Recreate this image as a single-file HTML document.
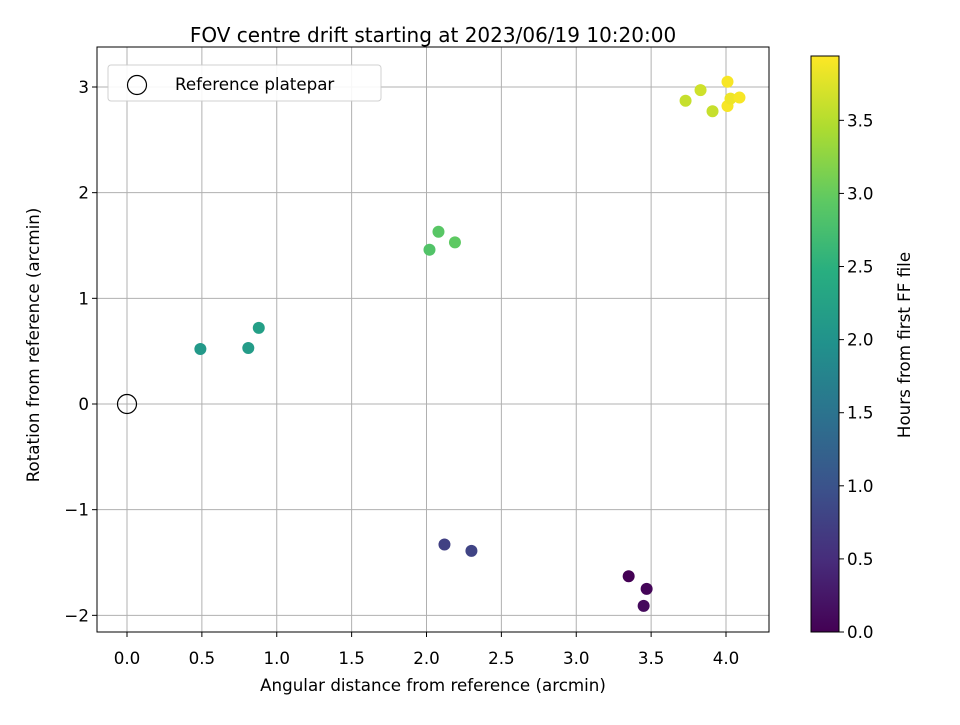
<!DOCTYPE html>
<html><head><meta charset="utf-8"><style>
body{margin:0;background:#fff}
svg text{font-family:"DejaVu Sans","Liberation Sans",sans-serif;fill:#000}
</style></head><body>
<svg id="chart" width="960" height="720" xmlns="http://www.w3.org/2000/svg">
<defs>
<linearGradient id="vir" x1="0" y1="1" x2="0" y2="0">
<stop offset="0" stop-color="#440154"/><stop offset="0.125" stop-color="#472d7b"/><stop offset="0.25" stop-color="#3b528b"/><stop offset="0.375" stop-color="#2c728e"/><stop offset="0.5" stop-color="#21918c"/><stop offset="0.625" stop-color="#28ae80"/><stop offset="0.75" stop-color="#5ec962"/><stop offset="0.875" stop-color="#addc30"/><stop offset="1" stop-color="#fde725"/>
</linearGradient>
</defs>
<g id="grid"></g>
<g id="points"></g>
<rect x="97" y="47" width="672" height="585" fill="none" stroke="#000" stroke-width="1"/>
<g id="xticks"></g>
<g id="yticks"></g>
<text x="433" y="42" font-size="20" text-anchor="middle">FOV centre drift starting at 2023/06/19 10:20:00</text>
<text x="433" y="691" font-size="16.7" text-anchor="middle">Angular distance from reference (arcmin)</text>
<text transform="translate(39,345) rotate(-90)" font-size="16.7" text-anchor="middle">Rotation from reference (arcmin)</text>
<g>
<rect x="108" y="65" width="273" height="36" rx="3" fill="#fff" stroke="#ccc" opacity="0.9"/>
<circle cx="137" cy="85" r="9.5" fill="none" stroke="#000" stroke-width="1.2"/>
<text x="175" y="90" font-size="16.7">Reference platepar</text>
</g>
<g>
<rect x="811" y="56" width="28" height="576" fill="url(#vir)" stroke="#000" stroke-width="1"/>
<g id="cticks"></g>
<text transform="translate(910,345) rotate(-90)" font-size="16.7" text-anchor="middle">Hours from first FF file</text>
</g>
</svg>
<script>
const distance=[3.35,3.47,3.45,2.12,2.30,0.49,0.81,0.88,2.02,2.08,2.19,3.73,3.83,3.91,4.01,4.01,4.03,4.09];
const rotation=[-1.63,-1.75,-1.91,-1.33,-1.39,0.52,0.53,0.72,1.46,1.63,1.53,2.87,2.97,2.77,3.05,2.82,2.89,2.90];
const hours=[0.0,0.05,0.1,0.75,0.8,2.1,2.15,2.2,2.85,2.9,2.95,3.6,3.65,3.6,3.9,3.9,3.85,3.9];
const xTicks=[0,0.5,1,1.5,2,2.5,3,3.5,4];
const yTicks=[-2,-1,0,1,2,3];
const cTicks=[0,0.5,1,1.5,2,2.5,3,3.5];
const hMax=3.94;
const NS="http://www.w3.org/2000/svg";
const X=v=>127+v*149.75, Y=v=>404-v*105.67, C=v=>632-v*(576/hMax);
const vir=["#440154","#472d7b","#3b528b","#2c728e","#21918c","#28ae80","#5ec962","#addc30","#fde725"];
function hex(h){return [1,3,5].map(i=>parseInt(h.substr(i,2),16));}
function cmap(t){t=Math.max(0,Math.min(1,t))*8;const i=Math.min(7,Math.floor(t)),f=t-i;const a=hex(vir[i]),b=hex(vir[i+1]);return "rgb("+a.map((v,k)=>Math.round(v+(b[k]-v)*f)).join(",")+")";}
function mk(tag,at,parent){const e=document.createElementNS(NS,tag);for(const k in at)e.setAttribute(k,at[k]);document.getElementById(parent).appendChild(e);return e;}
xTicks.forEach(v=>{
 const g=mk("line",{x1:X(v),x2:X(v),y1:47,y2:632,stroke:"#b0b0b0","stroke-width":1},"grid");
 
 
 const t=mk("line",{x1:X(v),x2:X(v),y1:632,y2:637,stroke:"#000"},"xticks");
 
 
 const l=mk("text",{x:X(v),y:664,"font-size":16.7,"text-anchor":"middle"},"xticks");
 l.textContent=v.toFixed(1);
 
 
});
yTicks.forEach(v=>{
 const g=mk("line",{x1:97,x2:769,y1:Y(v),y2:Y(v),stroke:"#b0b0b0","stroke-width":1},"grid");
 
 
 const t=mk("line",{x1:92,x2:97,y1:Y(v),y2:Y(v),stroke:"#000"},"yticks");
 
 
 const l=mk("text",{x:89,y:Y(v)+6,"font-size":16.7,"text-anchor":"end"},"yticks");
 l.textContent=(v<0?"\u2212"+(-v):""+v);
 
 
});
cTicks.forEach(v=>{
 const t=mk("line",{x1:839,x2:844,y1:C(v),y2:C(v),stroke:"#000"},"cticks");
 
 
 const l=mk("text",{x:847,y:C(v)+6,"font-size":16.7},"cticks");
 l.textContent=v.toFixed(1);
 
 
});
distance.forEach((d,i)=>{
 const p=mk("circle",{cx:X(d),cy:Y(rotation[i]),r:6,fill:cmap(hours[i]/hMax)},"points");
 
 
});
const ref=mk("circle",{cx:X(0),cy:Y(0),r:9.5,fill:"none",stroke:"#000","stroke-width":1.2},"points");


</script>
</body></html>
